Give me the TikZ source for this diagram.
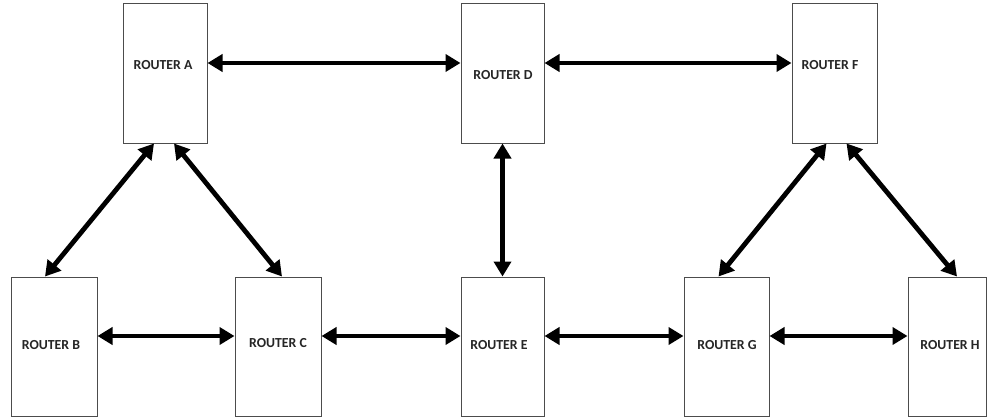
\documentclass[tikz,border=0pt]{standalone}
\usepackage{fontspec}
\setmainfont{Carlito}
\usetikzlibrary{arrows.meta}
\begin{document}
\begin{tikzpicture}[x=1pt,y=-1pt,
  routerbox/.style={draw=black!70, line width=1pt, minimum width=#1, minimum height=139pt, inner sep=0pt, fill=white},
  routerbox/.default=85pt,
  routertext/.style={font=\bfseries\fontsize{13.8}{15}\selectfont, inner sep=0pt, text=black!85},
  link/.style={line width=4.8pt, {Triangle[length=15pt,width=17pt]}-{Triangle[length=15pt,width=17pt]}}]
\useasboundingbox (0,0) rectangle (987,417);
% boxes
\node[routerbox=84pt] (A) at (165,73.5) {};
\node[routerbox=83pt] (D) at (502.5,73.5) {};
\node[routerbox=85pt] (F) at (834.5,73.5) {};
\node[routerbox=86pt] (B) at (54,346.5) {};
\node[routerbox=86pt] (C) at (278,346.5) {};
\node[routerbox=83pt] (E) at (502.5,346.5) {};
\node[routerbox=85pt] (G) at (726.5,346.5) {};
\node[routerbox=78pt] (H) at (947,346.5) {};
% texts
\node[routertext] (At) at (163,65) {ROUTER A};
\node[routertext] (Dt) at (503,75) {ROUTER D};
\node[routertext] (Ft) at (830,65) {ROUTER F};
\node[routertext] (Bt) at (51,345) {ROUTER B};
\node[routertext] (Ct) at (278,343) {ROUTER C};
\node[routertext] (Et) at (499,345) {ROUTER E};
\node[routertext] (Gt) at (727,345) {ROUTER G};
\node[routertext] (Ht) at (950,345) {ROUTER H};
% links
\draw[link] ([yshift=10.5pt]A.east) -- ([yshift=10.5pt]D.west);
\draw[link] ([yshift=10.5pt]D.east) -- ([yshift=10.5pt]F.west);
\draw[link] ([yshift=10.5pt]B.east) -- ([yshift=10.5pt]C.west);
\draw[link] ([yshift=10.5pt]C.east) -- ([yshift=10.5pt]E.west);
\draw[link] ([yshift=10.5pt]E.east) -- ([yshift=10.5pt]G.west);
\draw[link] ([yshift=10.5pt]G.east) -- ([yshift=10.5pt]H.west);
\draw[link] (D.south) -- (E.north);
\draw[link] ([xshift=-11pt]A.south) -- ([xshift=-9pt]B.north);
\draw[link] ([xshift=9pt]A.south) -- ([xshift=4pt]C.north);
\draw[link] ([xshift=-8pt]F.south) -- ([xshift=-8pt]G.north);
\draw[link] ([xshift=12pt]F.south) -- ([xshift=10pt]H.north);
\end{tikzpicture}
\end{document}
